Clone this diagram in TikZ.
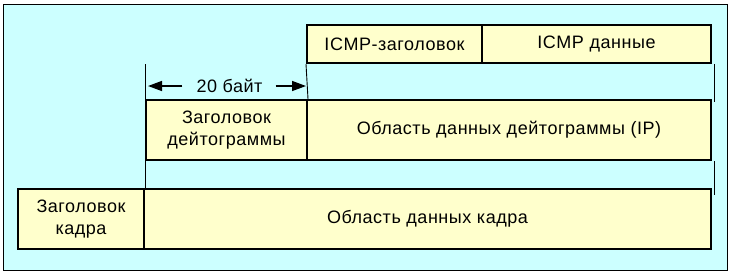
\documentclass[tikz,border=0pt]{standalone}
\usepackage{fontspec}
\setmainfont[LetterSpace=3]{Liberation Sans}
\usetikzlibrary{arrows.meta,positioning}
\definecolor{bgcyan}{RGB}{204,255,255}
\definecolor{boxyel}{RGB}{255,255,204}

\begin{document}
\begin{tikzpicture}[x=1pt,y=-1pt,>={Triangle[length=14pt,width=10pt]},font=\fontsize{18}{22}\selectfont]
\tikzstyle{c}=[draw,line width=2pt,fill=boxyel,inner sep=0pt,align=center,minimum height=38pt]
\tikzstyle{thin}=[line width=0.9pt]
\useasboundingbox (0,0) rectangle (732,274);
\draw[fill=bgcyan,line width=1pt] (3,4) rectangle (727,270);
% ICMP
\node[c,minimum width=175pt] (icmph) at (394.5,44) {ICMP-заголовок};
\node[c,minimum width=229pt] (icmpd) at (596.5,44) {ICMP данные};
% IP
\node[c,minimum width=161pt,minimum height=60pt] (iph) at (226.5,130) {Заголовок\\ дейтограммы};
\node[c,minimum width=404pt,minimum height=60pt] (ipd) at (509,130) {Область данных дейтограммы (IP)};
% frame
\node[c,minimum width=126pt,minimum height=60pt] (frh) at (81,219) {Заголовок\\ кадра};
\node[c,minimum width=567pt,minimum height=60pt] (frd) at (427.5,219) {Область данных кадра};
% thin guide lines
\draw[thin] (iph.north west) -- (iph.north west |- icmph.south);
\draw[thin] (icmph.south west) -- (iph.north east);
\draw[thin] ([xshift=2pt]icmpd.south east) -- ([xshift=2pt,yshift=-3pt]ipd.north east);
\draw[thin] (iph.south west) -- (iph.south west |- frd.north);
\draw[thin] ([xshift=2pt]ipd.south east) -- ([xshift=2pt,yshift=-7pt]frd.north east);
% 20 bytes
\node[inner sep=2pt] (len) at (229.5,86) {20 байт};
\draw[->,line width=1.5pt] ([xshift=-12pt]len.west) -- ([xshift=3pt]len.west -| iph.north west);
\draw[->,line width=1.5pt] ([xshift=11pt]len.east) -- ([xshift=-2pt]len.east -| iph.north east);
\end{tikzpicture}
\end{document}
